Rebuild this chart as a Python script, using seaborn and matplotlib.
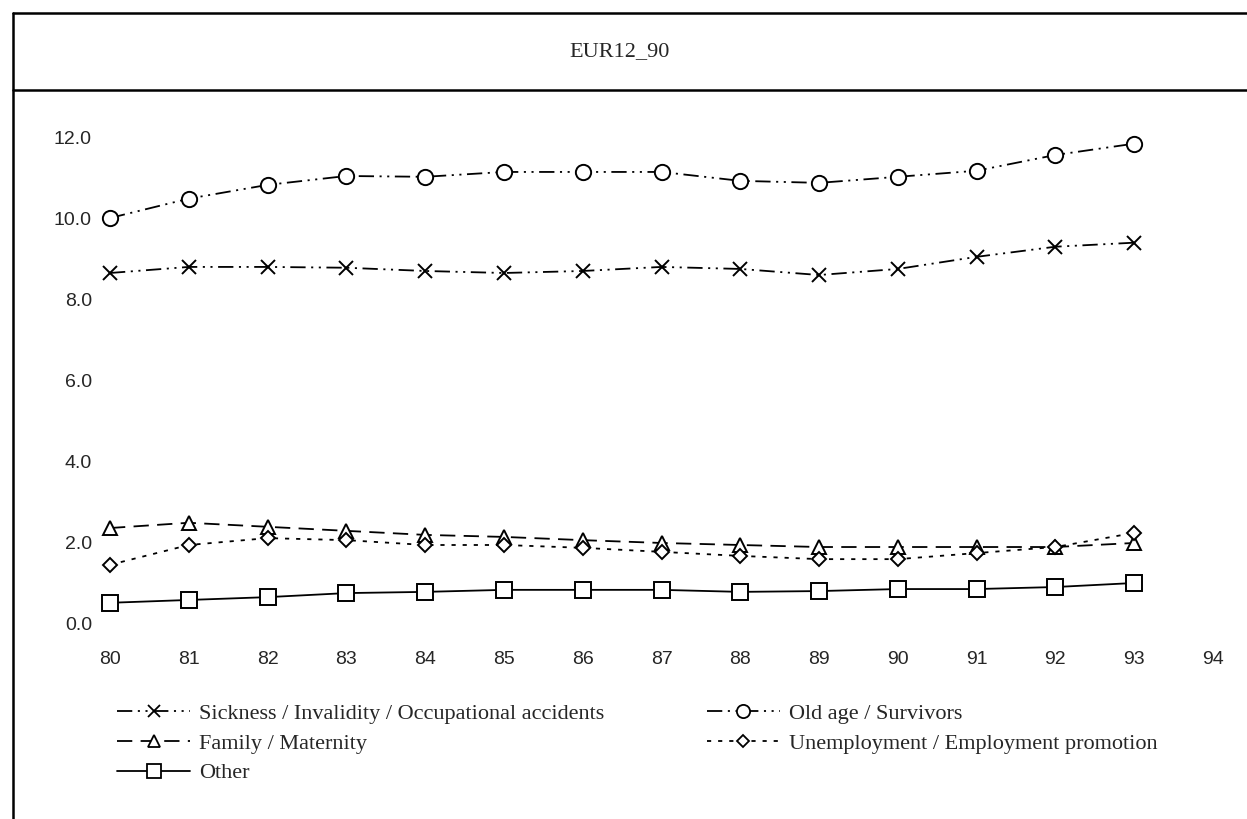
import numpy as np
import pandas as pd
import matplotlib
matplotlib.use("Agg")
import matplotlib.pyplot as plt
from matplotlib.lines import Line2D
import seaborn as sns

years = [80, 81, 82, 83, 84, 85, 86, 87, 88, 89, 90, 91, 92, 93]
sickness = [8.66, 8.81, 8.81, 8.79, 8.71, 8.66, 8.71, 8.81, 8.76, 8.61, 8.76, 9.06, 9.31, 9.41]
old_age = [10.02, 10.50, 10.84, 11.06, 11.04, 11.16, 11.16, 11.16, 10.94, 10.89, 11.04, 11.19, 11.58, 11.86]
family = [2.35, 2.48, 2.38, 2.28, 2.18, 2.13, 2.05, 1.98, 1.93, 1.88, 1.88, 1.88, 1.88, 1.98]
unemployment = [1.44, 1.93, 2.10, 2.05, 1.93, 1.93, 1.86, 1.76, 1.66, 1.58, 1.58, 1.73, 1.88, 2.23]
other = [0.50, 0.57, 0.64, 0.74, 0.77, 0.82, 0.82, 0.82, 0.77, 0.79, 0.84, 0.84, 0.89, 0.99]

labels = ['Sickness / Invalidity / Occupational accidents', 'Old age / Survivors',
          'Family / Maternity', 'Unemployment / Employment promotion', 'Other']

sns.set_style("white")
plt.rcParams['lines.scale_dashes'] = False

fig = plt.figure(figsize=(12.47, 8.19), dpi=100)
ax = fig.add_axes([110 / 1247, 1 - 623 / 819, (1213 - 110) / 1247, (623 - 138) / 819])

# series: values, marker, marker size, line style
series = [
    (sickness, 'x', 10, (0, (11, 4, 1.5, 4, 1.5, 4))),
    (old_age, 'o', 11, (0, (11, 4, 1.5, 4, 1.5, 4))),
    (family, '^', 9.5, (0, (11, 6))),
    (unemployment, 'D', 7.5, (0, (3, 5))),
    (other, 's', 11, '-'),
]

handles = []
for (vals, mk, ms, ls), lab in zip(series, labels):
    df = pd.DataFrame({'year': years, 'value': vals})
    sns.lineplot(data=df, x='year', y='value', ax=ax, color='black', linewidth=1.3,
                 linestyle=ls, marker=mk, markersize=ms, markerfacecolor='white',
                 markeredgecolor='black', markeredgewidth=1.4, clip_on=False, zorder=3)
    handles.append(Line2D([], [], color='black', linewidth=1.3, linestyle=ls, marker=mk,
                          markersize=ms - 1.5, markerfacecolor='white', markeredgecolor='black',
                          markeredgewidth=1.3, label=lab))

ax.set_xlim(80, 94)
ax.set_ylim(0, 12)
ax.set_xticks(range(80, 95))
ax.set_yticks(np.arange(0, 13, 2))
ax.set_yticklabels([f'{v:.1f}' for v in np.arange(0, 13, 2)])
ax.set_xlabel('')
ax.set_ylabel('')
for s in ax.spines.values():
    s.set_visible(False)
ax.tick_params(axis='x', length=1.5, width=1, color='#888888', direction='in', pad=20,
               labelsize=14, labelfontfamily='Liberation Sans')
ax.tick_params(axis='y', length=0, pad=13, labelsize=14, labelfontfamily='Liberation Sans')
ax.grid(False)

order = [0, 2, 4, 1, 3]
leg = fig.legend([handles[i] for i in order], [labels[i] for i in order], ncol=2,
                 loc='upper left', bbox_to_anchor=(106 / 1247, 1 - 692 / 819),
                 frameon=False, borderpad=0, handlelength=3.3, handletextpad=0.4,
                 columnspacing=4.6, labelspacing=0.42,
                 prop={'family': 'Liberation Serif', 'size': 16})

# frame and title box
fig.add_artist(Line2D([13 / 1247, 1], [1 - 13 / 819, 1 - 13 / 819], color='black', linewidth=1.8))
fig.add_artist(Line2D([13 / 1247, 1], [1 - 90 / 819, 1 - 90 / 819], color='black', linewidth=1.8))
fig.add_artist(Line2D([13 / 1247, 13 / 1247], [0, 1 - 13 / 819], color='black', linewidth=1.8))
fig.text(620 / 1247, 1 - 52 / 819, 'EUR12_90', ha='center', va='center',
         family='Liberation Serif', fontsize=16)

fig.savefig('out.png', dpi=100)
